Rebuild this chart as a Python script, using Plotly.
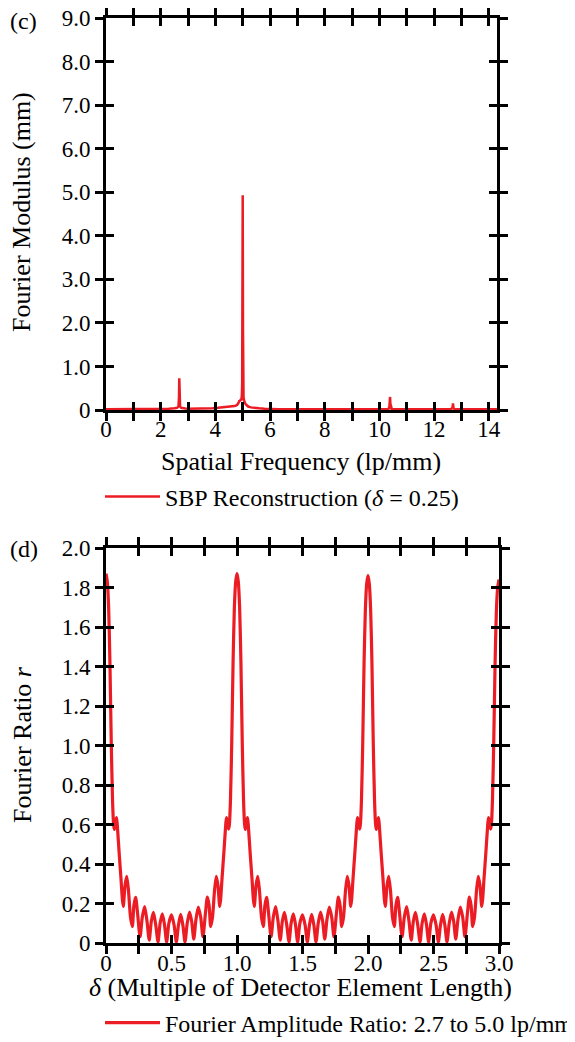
import plotly.graph_objects as go

# ---------------- Panel (c): Fourier modulus spectrum ----------------
spatial_freq = [0.0, 0.3, 0.6, 1.0, 1.5, 2.0, 2.3, 2.5, 2.6, 2.65, 2.67, 2.68, 2.69, 2.71,
                2.75, 2.8, 2.9, 3.0, 3.3, 3.6, 3.9, 4.1, 4.3, 4.5, 4.6, 4.7, 4.75, 4.8,
                4.85, 4.88, 4.9, 4.93, 4.95, 4.97, 4.98, 4.99, 5.0, 5.01, 5.02, 5.03,
                5.05, 5.07, 5.1, 5.13, 5.16, 5.2, 5.3, 5.4, 5.6, 5.8, 6.0, 6.3, 7.0, 8.0,
                9.0, 10.0, 10.3, 10.36, 10.38, 10.39, 10.40, 10.42, 10.45, 10.6, 11.0,
                12.0, 12.6, 12.67, 12.69, 12.71, 12.74, 12.8, 13.3, 14.0, 14.3]
fourier_modulus = [0.02, 0.02, 0.02, 0.02, 0.02, 0.025, 0.03, 0.04, 0.05, 0.08, 0.3, 0.73, 0.3, 0.08,
                   0.05, 0.04, 0.035, 0.03, 0.03, 0.035, 0.04, 0.05, 0.06, 0.07, 0.08, 0.09, 0.1, 0.12,
                   0.17, 0.22, 0.2, 0.25, 0.22, 0.35, 0.6, 1.9, 4.93, 1.9, 0.5, 0.3,
                   0.22, 0.18, 0.14, 0.12, 0.1, 0.08, 0.06, 0.05, 0.04, 0.03, 0.025, 0.02, 0.02, 0.02,
                   0.02, 0.02, 0.025, 0.04, 0.15, 0.3, 0.15, 0.04, 0.025, 0.02, 0.02,
                   0.02, 0.02, 0.04, 0.15, 0.04, 0.02, 0.02, 0.02, 0.02, 0.02]

freq_tickvals = [0, 1, 2, 3, 4, 5, 6, 7, 8, 9, 10, 11, 12, 13, 14]
freq_ticktext = ["0", "", "2", "", "4", "", "6", "", "8", "", "10", "", "12", "", "14"]
mod_tickvals = [0, 1, 2, 3, 4, 5, 6, 7, 8, 9]
mod_ticktext = ["0", "1.0", "2.0", "3.0", "4.0", "5.0", "6.0", "7.0", "8.0", "9.0"]

# ---------------- Panel (d): Fourier ratio vs delta ----------------
delta_p1 = [0.000, 0.010, 0.020, 0.030, 0.040, 0.050, 0.058, 0.064, 0.072, 0.081,
            0.089, 0.100, 0.115, 0.125, 0.132, 0.145, 0.158, 0.171, 0.187, 0.201,
            0.213, 0.226, 0.241, 0.260, 0.277, 0.295, 0.313, 0.330, 0.346, 0.362,
            0.380, 0.397, 0.413, 0.430, 0.447, 0.463, 0.480, 0.500, 0.520, 0.537,
            0.553, 0.570, 0.587, 0.603, 0.620, 0.638, 0.654, 0.670, 0.687, 0.705,
            0.723, 0.740, 0.759, 0.774, 0.787, 0.799, 0.813, 0.829, 0.842, 0.855,
            0.868, 0.875, 0.885, 0.900, 0.911, 0.919, 0.928, 0.936, 0.942, 0.950,
            0.960, 0.970, 0.980, 0.990]
ratio_p1 = [1.87, 1.83, 1.70, 1.42, 1.02, 0.72, 0.60, 0.575, 0.615, 0.635,
            0.57, 0.46, 0.32, 0.22, 0.185, 0.29, 0.337, 0.27, 0.13, 0.083,
            0.19, 0.231, 0.15, 0.032, 0.13, 0.184, 0.11, 0.015, 0.11, 0.155,
            0.09, 0.005, 0.10, 0.148, 0.09, 0.005, 0.10, 0.142, 0.09, 0.005,
            0.09, 0.145, 0.09, 0.005, 0.10, 0.157, 0.11, 0.02, 0.12, 0.182,
            0.13, 0.032, 0.15, 0.232, 0.19, 0.083, 0.13, 0.27, 0.338, 0.29,
            0.185, 0.22, 0.32, 0.46, 0.57, 0.635, 0.615, 0.577, 0.60, 0.72,
            1.02, 1.42, 1.70, 1.83]
delta_p2 = [1.000, 1.010, 1.020, 1.030, 1.040, 1.050, 1.058, 1.064, 1.072, 1.081,
            1.089, 1.100, 1.115, 1.125, 1.132, 1.145, 1.158, 1.171, 1.187, 1.201,
            1.213, 1.226, 1.241, 1.260, 1.277, 1.295, 1.313, 1.330, 1.346, 1.362,
            1.380, 1.397, 1.413, 1.430, 1.447, 1.463, 1.480, 1.500, 1.520, 1.537,
            1.553, 1.570, 1.587, 1.603, 1.620, 1.638, 1.654, 1.670, 1.687, 1.705,
            1.723, 1.740, 1.759, 1.774, 1.787, 1.799, 1.813, 1.829, 1.842, 1.855,
            1.868, 1.875, 1.885, 1.900, 1.911, 1.919, 1.928, 1.936, 1.942, 1.950,
            1.960, 1.970, 1.980, 1.990]
ratio_p2 = [1.87, 1.83, 1.70, 1.42, 1.02, 0.72, 0.60, 0.575, 0.615, 0.635,
            0.57, 0.46, 0.32, 0.22, 0.185, 0.29, 0.337, 0.27, 0.13, 0.083,
            0.19, 0.231, 0.15, 0.032, 0.13, 0.184, 0.11, 0.015, 0.11, 0.155,
            0.09, 0.005, 0.10, 0.148, 0.09, 0.005, 0.10, 0.142, 0.09, 0.005,
            0.09, 0.145, 0.09, 0.005, 0.10, 0.157, 0.11, 0.02, 0.12, 0.182,
            0.13, 0.032, 0.15, 0.232, 0.19, 0.083, 0.13, 0.27, 0.338, 0.29,
            0.185, 0.22, 0.32, 0.46, 0.57, 0.635, 0.615, 0.577, 0.60, 0.72,
            1.02, 1.42, 1.69, 1.82]
delta_p3 = [2.000, 2.010, 2.020, 2.030, 2.040, 2.050, 2.058, 2.064, 2.072, 2.081,
            2.089, 2.100, 2.115, 2.125, 2.132, 2.145, 2.158, 2.171, 2.187, 2.201,
            2.213, 2.226, 2.241, 2.260, 2.277, 2.295, 2.313, 2.330, 2.346, 2.362,
            2.380, 2.397, 2.413, 2.430, 2.447, 2.463, 2.480, 2.500, 2.520, 2.537,
            2.553, 2.570, 2.587, 2.603, 2.620, 2.638, 2.654, 2.670, 2.687, 2.705,
            2.723, 2.740, 2.759, 2.774, 2.787, 2.799, 2.813, 2.829, 2.842, 2.855,
            2.868, 2.875, 2.885, 2.900, 2.911, 2.919, 2.928, 2.936, 2.942, 2.950,
            2.960, 2.970, 2.980, 2.990, 3.000]
ratio_p3 = [1.86, 1.82, 1.69, 1.42, 1.02, 0.72, 0.60, 0.575, 0.615, 0.635,
            0.57, 0.46, 0.32, 0.22, 0.185, 0.29, 0.337, 0.27, 0.13, 0.083,
            0.19, 0.231, 0.15, 0.032, 0.13, 0.184, 0.11, 0.015, 0.11, 0.155,
            0.09, 0.005, 0.10, 0.148, 0.09, 0.005, 0.10, 0.142, 0.09, 0.005,
            0.09, 0.145, 0.09, 0.005, 0.10, 0.157, 0.11, 0.02, 0.12, 0.182,
            0.13, 0.032, 0.15, 0.232, 0.19, 0.083, 0.13, 0.27, 0.338, 0.29,
            0.185, 0.22, 0.32, 0.46, 0.57, 0.635, 0.615, 0.577, 0.60, 0.72,
            1.02, 1.41, 1.68, 1.80, 1.84]

delta_tickvals = [0, 0.25, 0.5, 0.75, 1.0, 1.25, 1.5, 1.75, 2.0, 2.25, 2.5, 2.75, 3.0]
delta_ticktext = ["0", "", "0.5", "", "1.0", "", "1.5", "", "2.0", "", "2.5", "", "3.0"]
ratio_tickvals = [0, 0.2, 0.4, 0.6, 0.8, 1.0, 1.2, 1.4, 1.6, 1.8, 2.0]
ratio_ticktext = ["0", "0.2", "0.4", "0.6", "0.8", "1.0", "1.2", "1.4", "1.6", "1.8", "2.0"]

delta_all = delta_p1 + delta_p2 + delta_p3
ratio_all = ratio_p1 + ratio_p2 + ratio_p3

# ---------------- Styling ----------------
# The page body has an 8px margin, so the figure is 8px smaller than the window.
OFF = 8
W, H = 575 - OFF, 1042 - OFF
RED = "#EC1C24"
FONT = "Liberation Serif, Times New Roman, serif"
TICKFONT = dict(family=FONT, size=23, color="black")


def px(x):
    return (x - OFF) / W


def py(y):
    return 1 - (y - OFF) / H


top_x = [px(106), px(497)]
top_y = [py(410), py(18)]
bot_x = [px(106), px(499)]
bot_y = [py(943), py(548)]

fig = go.Figure()

fig.add_trace(go.Scatter(
    x=spatial_freq, y=fourier_modulus, mode="lines",
    line=dict(color=RED, width=2.5),
    name="SBP Reconstruction (<i>δ</i> = 0.25)",
    xaxis="x", yaxis="y", legend="legend", hoverinfo="skip"))
fig.add_trace(go.Scatter(
    x=delta_all, y=ratio_all, mode="lines",
    line=dict(color=RED, width=3.2, shape="spline", smoothing=0.7),
    name="Fourier Amplitude Ratio: 2.7 to 5.0 lp/mm",
    xaxis="x2", yaxis="y2", legend="legend2", hoverinfo="skip"))
# invisible traces so the overlay (inner-tick) axes are drawn
fig.add_trace(go.Scatter(x=[None], y=[None], mode="lines", showlegend=False,
                         xaxis="x3", yaxis="y3", hoverinfo="skip"))
fig.add_trace(go.Scatter(x=[None], y=[None], mode="lines", showlegend=False,
                         xaxis="x4", yaxis="y4", hoverinfo="skip"))

common_main = dict(showline=True, linewidth=3, linecolor="black", mirror="ticks",
                   ticks="outside", ticklen=8, tickwidth=2.5, tickcolor="black",
                   showgrid=False, zeroline=False, tickfont=TICKFONT, fixedrange=True,
                   automargin=False, ticklabeloverflow="allow")
common_inner = dict(showline=False, mirror="ticks", ticks="inside", ticklen=8,
                    tickwidth=2.5, tickcolor="black", showgrid=False, zeroline=False,
                    showticklabels=False, fixedrange=True, automargin=False)

fig.update_layout(
    width=W, height=H,
    margin=dict(l=0, r=0, t=0, b=0, pad=0, autoexpand=False),
    paper_bgcolor="white", plot_bgcolor="white",
    font=dict(family=FONT, color="black"),
    xaxis=dict(domain=top_x, anchor="y", range=[0, 14.3], ticklabelstandoff=-12,
               tickmode="array", tickvals=freq_tickvals, ticktext=freq_ticktext, **common_main),
    yaxis=dict(domain=top_y, anchor="x", range=[0, 9],
               tickmode="array", tickvals=mod_tickvals, ticktext=mod_ticktext, **common_main),
    xaxis3=dict(overlaying="x", anchor="y", range=[0, 14.3],
                tickmode="array", tickvals=freq_tickvals, **common_inner),
    yaxis3=dict(overlaying="y", anchor="x", range=[0, 9],
                tickmode="array", tickvals=mod_tickvals, **common_inner),
    xaxis2=dict(domain=bot_x, anchor="y2", range=[0, 3.0], ticklabelstandoff=-11,
                tickmode="array", tickvals=delta_tickvals, ticktext=delta_ticktext, **common_main),
    yaxis2=dict(domain=bot_y, anchor="x2", range=[0, 2.0],
                tickmode="array", tickvals=ratio_tickvals, ticktext=ratio_ticktext, **common_main),
    xaxis4=dict(overlaying="x2", anchor="y2", range=[0, 3.0],
                tickmode="array", tickvals=delta_tickvals, **common_inner),
    yaxis4=dict(overlaying="y2", anchor="x2", range=[0, 2.0],
                tickmode="array", tickvals=ratio_tickvals, **common_inner),
    legend=dict(x=px(100), y=py(497), xanchor="left", yanchor="middle",
                font=dict(family=FONT, size=24, color="black"),
                bgcolor="rgba(0,0,0,0)", itemwidth=55),
    legend2=dict(x=px(100), y=py(1023), xanchor="left", yanchor="middle",
                 font=dict(family=FONT, size=24, color="black"),
                 bgcolor="rgba(0,0,0,0)", itemwidth=55),
    showlegend=True,
)

ann_font_title = dict(family=FONT, size=26, color="black")
ann_font_label = dict(family=FONT, size=24, color="black")
annotations = [
    dict(text="(c)", x=px(8), y=py(21), xanchor="left", yanchor="middle", font=ann_font_label),
    dict(text="(d)", x=px(8), y=py(549), xanchor="left", yanchor="middle", font=ann_font_label),
    dict(text="Fourier Modulus (mm)", x=px(22), y=py(212), textangle=-90,
         xanchor="center", yanchor="middle", font=ann_font_title),
    dict(text="Fourier Ratio <i>r</i>", x=px(22), y=py(745), textangle=-90,
         xanchor="center", yanchor="middle", font=ann_font_title),
    dict(text="Spatial Frequency (lp/mm)", x=px(301), y=py(462),
         xanchor="center", yanchor="middle", font=ann_font_title),
    dict(text="<i>δ</i> (Multiple of Detector Element Length)", x=px(300), y=py(988),
         xanchor="center", yanchor="middle", font=ann_font_title),
]
for a in annotations:
    a.update(xref="paper", yref="paper", showarrow=False)
fig.update_layout(annotations=annotations)

fig.write_html("out.html")
